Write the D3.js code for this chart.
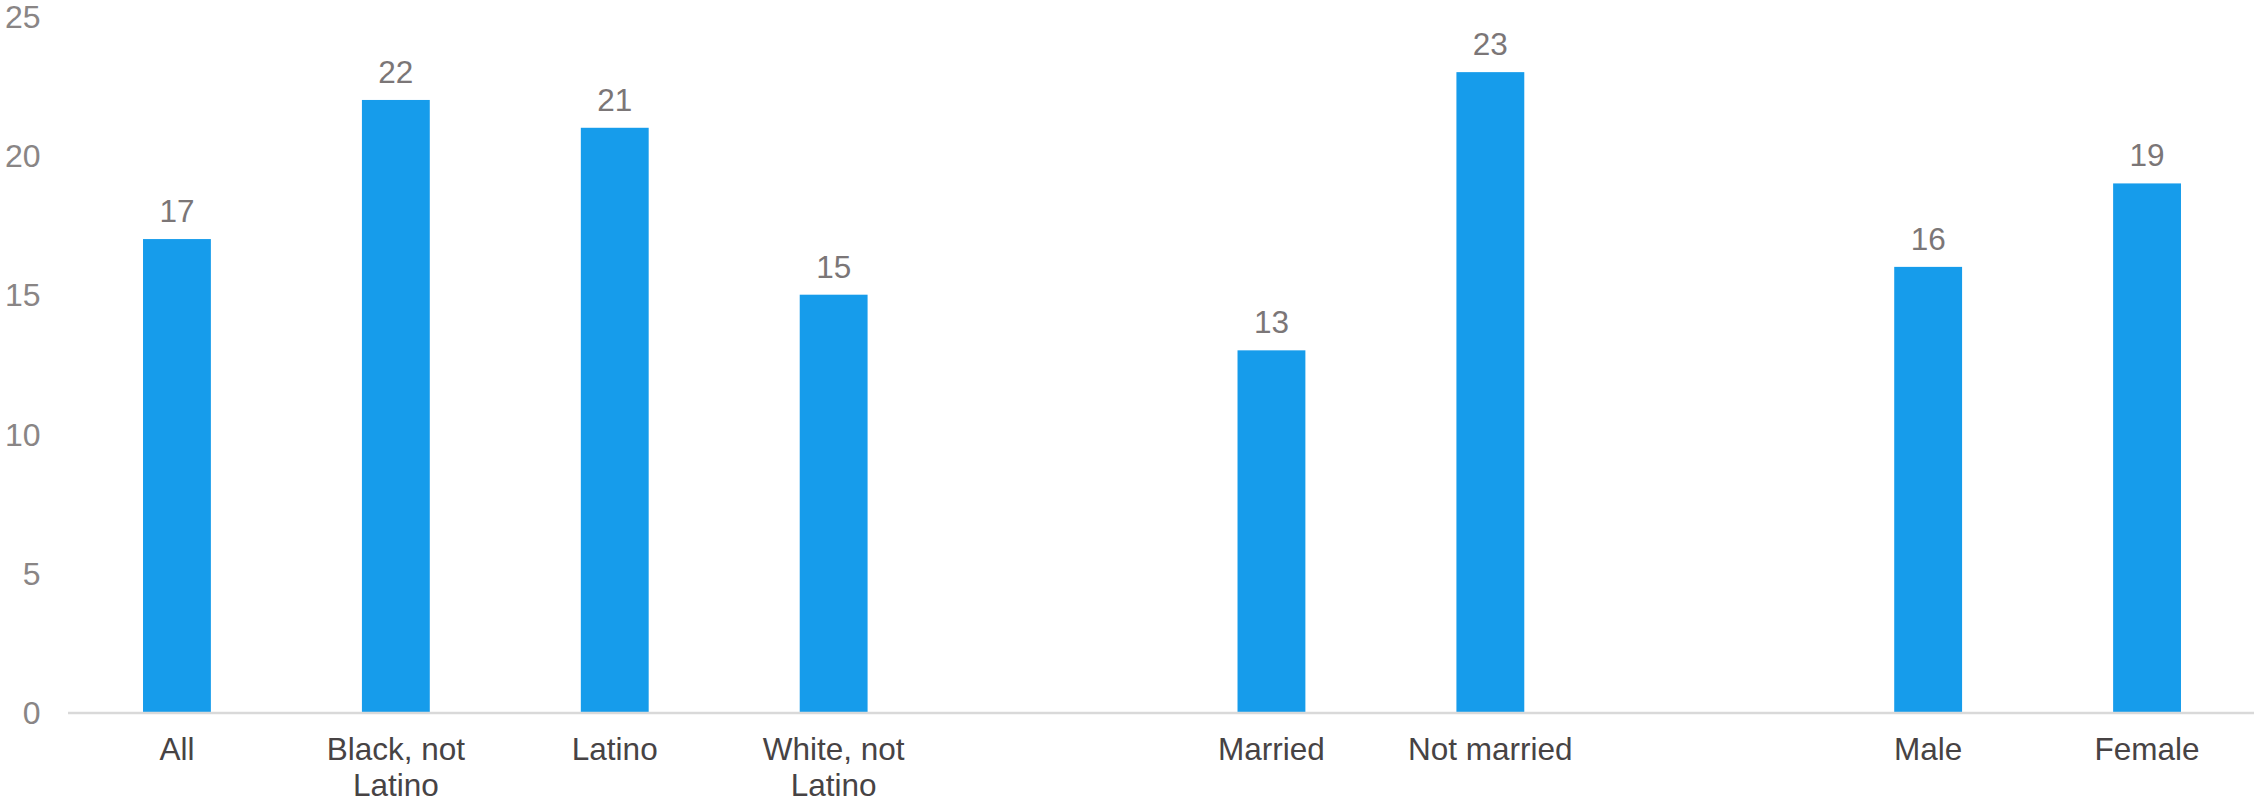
<!DOCTYPE html>
<html>
<head>
<meta charset="utf-8">
<script src="https://cdn.jsdelivr.net/npm/d3@7"></script>
<style>
  html, body { margin: 0; padding: 0; background: #ffffff; }
  svg { display: block; }
</style>
</head>
<body>
<svg id="chart" width="2254" height="799"></svg>
<script>
// Data
const categories = ["All", "Black, not Latino", "Latino", "White, not Latino", "", "Married", "Not married", "", "Male", "Female"];
const labelLines = [["All"], ["Black, not", "Latino"], ["Latino"], ["White, not", "Latino"], [], ["Married"], ["Not married"], [], ["Male"], ["Female"]];
const values = [17, 22, 21, 15, null, 13, 23, null, 16, 19];
const yTicks = [0, 5, 10, 15, 20, 25];

const svg = d3.select("#chart");
const slotKeys = categories.map((c, i) => "k" + i);

const x = d3.scaleBand()
  .domain(slotKeys)
  .range([67.5, 2256.5])
  .paddingInner(0.69)
  .paddingOuter(0.345);

const y = d3.scaleLinear().domain([0, 25]).range([712, 16.5]);

const font = "'Liberation Sans', Arial, sans-serif";

// Y axis labels
const yAxis = d3.axisLeft(y).tickValues(yTicks).tickSize(0).tickPadding(0);
const gy = svg.append("g").attr("transform", "translate(40.5,0)").call(yAxis);
gy.select(".domain").remove();
gy.selectAll("text")
  .attr("font-family", font)
  .attr("font-size", 32)
  .attr("fill", "#898585")
  .attr("dy", "0.35em");

// Bars
const data = categories.map((c, i) => ({ key: slotKeys[i], v: values[i], lines: labelLines[i] }));
svg.append("g").selectAll("rect")
  .data(data.filter(d => d.v != null))
  .join("rect")
  .attr("x", d => x(d.key))
  .attr("width", x.bandwidth())
  .attr("y", d => y(d.v))
  .attr("height", d => y(0) - y(d.v))
  .attr("fill", "#169CEB");

// X axis line
const xAxis = d3.axisBottom(x).tickSize(0).tickFormat("");
const gx = svg.append("g").attr("transform", `translate(0,${y(0) + 1})`).call(xAxis);
gx.select(".domain")
  .attr("stroke", "#d9d9d9")
  .attr("stroke-width", 2.5)
  .attr("d", `M68,0H2254`);
gx.selectAll(".tick text").remove();

// Category labels
const catG = svg.append("g");
data.forEach(d => {
  if (!d.lines.length) return;
  const cx = x(d.key) + x.bandwidth() / 2;
  const t = catG.append("text")
    .attr("x", cx)
    .attr("y", 760)
    .attr("text-anchor", "middle")
    .attr("font-family", font)
    .attr("font-size", 31.5)
    .attr("fill", "#474344");
  d.lines.forEach((ln, j) => {
    t.append("tspan")
      .attr("x", cx)
      .attr("y", 760 + j * 36)
      .text(ln);
  });
});

// Value labels
svg.append("g").selectAll("text")
  .data(data.filter(d => d.v != null))
  .join("text")
  .attr("x", d => x(d.key) + x.bandwidth() / 2)
  .attr("y", d => y(d.v) - 17)
  .attr("text-anchor", "middle")
  .attr("font-family", font)
  .attr("font-size", 31.5)
  .attr("fill", "#7b7677")
  .text(d => d.v);
</script>
</body>
</html>
